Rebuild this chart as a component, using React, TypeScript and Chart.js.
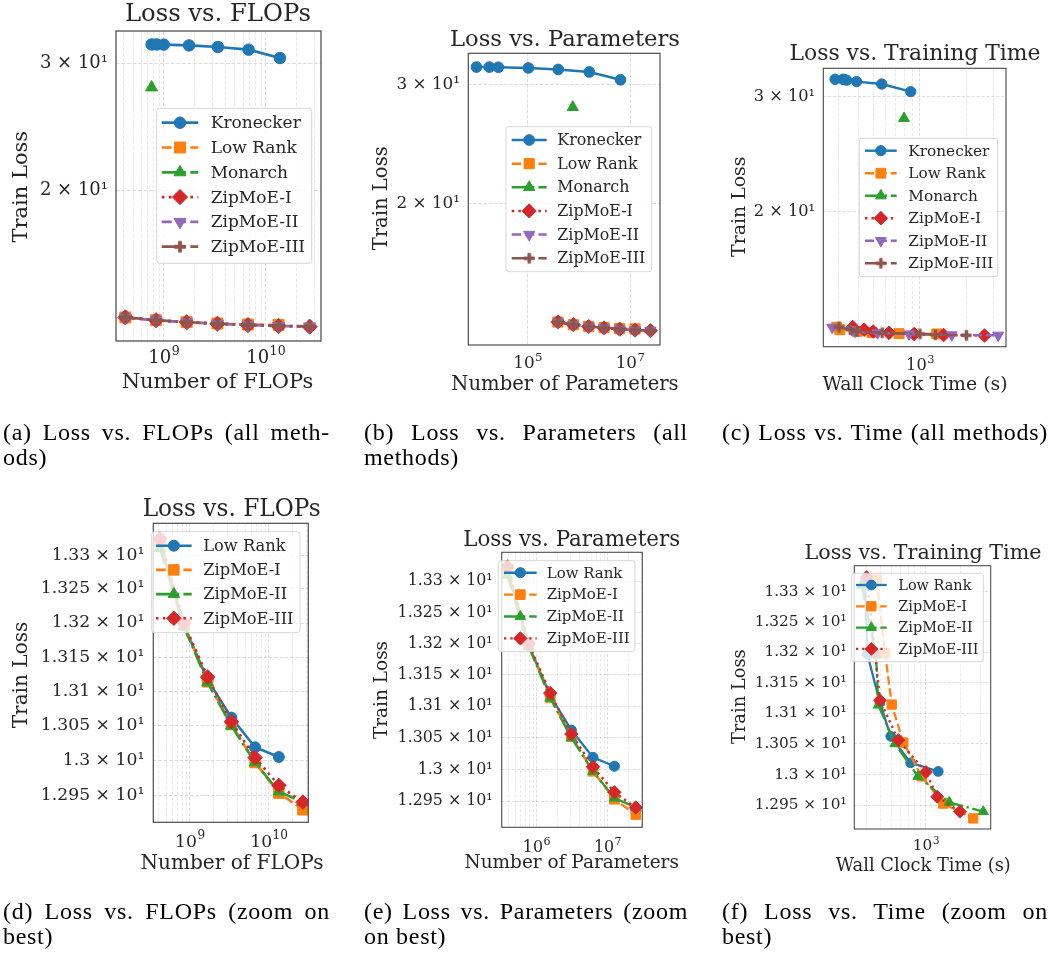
import React, { useEffect, useRef } from 'react';
import { Chart, registerables } from 'chart.js';

Chart.register(...registerables);

// ---------------- data ----------------
const lossKronecker = [31.9, 31.9, 31.88, 31.8, 31.64, 31.37, 30.54];
const flopsKronecker = [7.6e8, 8.5e8, 1.0e9, 1.77e9, 3.4e9, 6.8e9, 1.38e10];
const paramsKronecker = [1.0e4, 1.78e4, 2.67e4, 1.03e5, 3.96e5, 1.6e6, 6.5e6];
const timeKronecker = [283, 318, 325, 336, 390, 566, 871];

const lossMonarch = [27.8];
const flopsMonarch = [7.6e8];
const paramsMonarch = [7.6e5];
const timeMonarch = [789];

const flopsLowRank = [4.2e8, 8.4e8, 1.68e9, 3.36e9, 6.7e9, 1.34e10];
const paramsLowRank = [3.9e5, 7.8e5, 1.56e6, 3.1e6, 6.25e6, 1.25e7];
const timeLowRank = [290, 304, 393, 489, 733, 1283];
const lossLowRank = [13.318, 13.197, 13.117, 13.062, 13.019, 13.005];

const flopsZip = [4.2e8, 8.4e8, 1.68e9, 3.36e9, 6.7e9, 1.34e10, 2.7e10];
const paramsZip = [3.9e5, 7.8e5, 1.56e6, 3.1e6, 6.25e6, 1.25e7, 2.5e7];

const lossZipI = [13.32, 13.198, 13.114, 13.052, 12.997, 12.953, 12.929];
const lossZipII = [13.31, 13.195, 13.113, 13.05, 12.997, 12.955, 12.94];
const lossZipIII = [13.324, 13.2, 13.121, 13.056, 13.004, 12.964, 12.94];

const timeZipI = [368, 436, 499, 631, 917, 1420, 2610];
const timeZipII = [271, 363, 380, 533, 850, 1604, 3200];
const timeZipIII = [300, 355, 393, 570, 1000, 1257, 1994];

// tick labels
const yTicksAll = [20, 30];
const yLabelsAll = ['2 × 10¹', '3 × 10¹'];
const yTicksZoom = [12.95, 13.0, 13.05, 13.1, 13.15, 13.2, 13.25, 13.3];
const yLabelsZoom = ['1.295 × 10¹', '1.3 × 10¹', '1.305 × 10¹', '1.31 × 10¹', '1.315 × 10¹', '1.32 × 10¹', '1.325 × 10¹', '1.33 × 10¹'];
const xTicksFlops = [1e9, 1e10];
const xExpFlops = ['9', '10'];
const xTicksParamsAll = [1e5, 1e7];
const xExpParamsAll = ['5', '7'];
const xTicksParamsZoom = [1e6, 1e7];
const xExpParamsZoom = ['6', '7'];
const xTicksTime = [1e3];
const xExpTime = ['3'];

// ---------------- style ----------------
const FONT = '"DejaVu Serif", serif';
const TXT = '#262626';
const C = ['#1f77b4', '#ff7f0e', '#2ca02c', '#d62728', '#9467bd', '#8c564b'];
const PW = 1050;
const PH = 953;
const LW = 2.7;
const MS = 11.5;
const BASE = { title: 24.3, label: 21, tick: 18, legend: 17 };

type Marker = 'o' | 's' | '^' | 'D' | 'v' | 'P';
type Dash = '-' | '--' | '-.' | ':';
interface Series { label: string; xs: number[]; ys: number[]; color: string; marker: Marker; dash: Dash; }
interface Panel {
  s: number;
  area: [number, number, number, number];
  xMin: number; xMax: number; yMin: number; yMax: number;
  xMajor: number[]; xExp: string[]; xMinor: boolean;
  yTicks: number[]; yLabels: string[];
  xTickBase: number; yPad: number;
  title: string; titlePos: [number, number];
  xlabel: string; xlabelPos: [number, number];
  ylabel: string; ylabelPos: [number, number];
  legendBox: [number, number, number, number];
  legendRow0: number; legendStep: number;
  legendLine: [number, number]; legendTextX: number;
  series: Series[];
}

function dashArr(d: Dash, lw: number): number[] {
  switch (d) {
    case '--': return [3.7 * lw, 1.6 * lw];
    case '-.': return [6.4 * lw, 1.6 * lw, 1 * lw, 1.6 * lw];
    case ':': return [1 * lw, 1.65 * lw];
    default: return [];
  }
}

function markerRadius(m: Marker, ms: number): number {
  switch (m) {
    case 'o': return ms / 2;
    case 's': return ms / Math.SQRT2 * 0.95;
    case 'D': return ms * 0.66;
    case '^': case 'v': return ms / 1.65;
    default: return ms / 2;
  }
}

function plusCanvas(size: number, color: string): HTMLCanvasElement {
  const c = document.createElement('canvas');
  const d = Math.ceil(size) + 2;
  c.width = d; c.height = d;
  const g = c.getContext('2d')!;
  const cx = d / 2, cy = d / 2, h = size / 2, a = size / 6;
  g.fillStyle = color;
  g.beginPath();
  g.moveTo(cx - a, cy - h); g.lineTo(cx + a, cy - h); g.lineTo(cx + a, cy - a); g.lineTo(cx + h, cy - a);
  g.lineTo(cx + h, cy + a); g.lineTo(cx + a, cy + a); g.lineTo(cx + a, cy + h); g.lineTo(cx - a, cy + h);
  g.lineTo(cx - a, cy + a); g.lineTo(cx - h, cy + a); g.lineTo(cx - h, cy - a); g.lineTo(cx - a, cy - a);
  g.closePath();
  g.fill();
  return c;
}

function drawMarker(ctx: CanvasRenderingContext2D, m: Marker, x: number, y: number, ms: number, color: string, plus: HTMLCanvasElement | null) {
  ctx.save();
  ctx.setLineDash([]);
  ctx.fillStyle = color; ctx.strokeStyle = color; ctx.lineWidth = 1;
  if (m === 'P' && plus) {
    ctx.drawImage(plus, x - plus.width / 2, y - plus.height / 2);
    ctx.restore();
    return;
  }
  const r = markerRadius(m, ms);
  ctx.beginPath();
  if (m === 'o') ctx.arc(x, y, r, 0, Math.PI * 2);
  else if (m === 's') { const h = r * Math.SQRT1_2; ctx.rect(x - h, y - h, 2 * h, 2 * h); }
  else if (m === 'D') { ctx.moveTo(x - r, y); ctx.lineTo(x, y - r); ctx.lineTo(x + r, y); ctx.lineTo(x, y + r); ctx.closePath(); }
  else if (m === '^') { ctx.moveTo(x, y - r); ctx.lineTo(x + 0.866 * r, y + 0.5 * r); ctx.lineTo(x - 0.866 * r, y + 0.5 * r); ctx.closePath(); }
  else if (m === 'v') { ctx.moveTo(x, y + r); ctx.lineTo(x - 0.866 * r, y - 0.5 * r); ctx.lineTo(x + 0.866 * r, y - 0.5 * r); ctx.closePath(); }
  ctx.fill(); ctx.stroke();
  ctx.restore();
}

function minorTicks(min: number, max: number): number[] {
  const out: number[] = [];
  for (let e = Math.floor(Math.log10(min)); e <= Math.ceil(Math.log10(max)); e++) {
    for (let k = 2; k <= 9; k++) {
      const v = k * Math.pow(10, e);
      if (v > min && v < max) out.push(v);
    }
  }
  return out;
}

function near(a: number, b: number) { return Math.abs(a / b - 1) < 1e-6; }

function buildConfig(p: Panel): any {
  const [L, T, R, B] = p.area;
  const s = p.s;
  const lw = LW * s;
  const ms = MS * s;
  const yAxisW = Math.min(L - 2, 150);
  const xAxisH = 40;
  const plusImgs: Record<string, HTMLCanvasElement> = {};
  p.series.forEach((se) => { if (se.marker === 'P') plusImgs[se.label] = plusCanvas(ms, se.color); });

  const datasets = p.series.map((se, i) => ({
    label: se.label,
    data: se.xs.map((x, j) => ({ x, y: se.ys[j] })),
    showLine: true,
    borderColor: se.color,
    backgroundColor: se.color,
    borderWidth: lw,
    borderDash: dashArr(se.dash, lw),
    pointStyle: se.marker === 'P' ? plusImgs[se.label] : ({ o: 'circle', s: 'rect', '^': 'triangle', v: 'triangle', D: 'rectRot' } as any)[se.marker],
    pointRotation: se.marker === 'v' ? 180 : 0,
    pointRadius: markerRadius(se.marker, ms),
    pointHoverRadius: markerRadius(se.marker, ms),
    pointBorderWidth: 1,
    pointBackgroundColor: se.color,
    pointBorderColor: se.color,
    order: p.series.length - i,
    tension: 0,
  }));

  const xTickVals = p.xMinor ? [...p.xMajor, ...minorTicks(p.xMin, p.xMax)].sort((a, b) => a - b) : [...p.xMajor];
  const tickSize = BASE.tick * s;

  const decor = {
    id: 'decor_' + p.title.replace(/\W/g, ''),
    afterDraw(chart: any) {
      const ctx: CanvasRenderingContext2D = chart.ctx;
      const a = chart.chartArea;
      ctx.save();
      // spines
      ctx.setLineDash([]);
      ctx.strokeStyle = '#4a4a4a';
      ctx.lineWidth = 1.25 * s;
      ctx.strokeRect(a.left, a.top, a.right - a.left, a.bottom - a.top);
      // x tick labels: 10 with superscript exponent
      const xs = chart.scales.x;
      p.xMajor.forEach((v, k) => {
        const px = xs.getPixelForValue(v);
        ctx.font = `${tickSize}px ${FONT}`;
        const wb = ctx.measureText('10').width;
        ctx.font = `${tickSize * 0.7}px ${FONT}`;
        const we = ctx.measureText(p.xExp[k]).width;
        const x0 = px - (wb + we) / 2;
        ctx.fillStyle = TXT;
        ctx.textAlign = 'left';
        ctx.textBaseline = 'alphabetic';
        ctx.font = `${tickSize}px ${FONT}`;
        ctx.fillText('10', x0, p.xTickBase);
        ctx.font = `${tickSize * 0.7}px ${FONT}`;
        ctx.fillText(p.xExp[k], x0 + wb + 0.5, p.xTickBase - tickSize * 0.42);
      });
      // legend
      const [bx, by, bw, bh] = p.legendBox;
      ctx.beginPath();
      (ctx as any).roundRect(bx, by, bw, bh, 3 * s);
      ctx.fillStyle = 'rgba(255,255,255,0.8)';
      ctx.fill();
      ctx.strokeStyle = 'rgba(204,204,204,0.8)';
      ctx.lineWidth = 1;
      ctx.stroke();
      p.series.forEach((se, i) => {
        const y = p.legendRow0 + i * p.legendStep;
        const [x1, x2] = p.legendLine;
        ctx.save();
        ctx.strokeStyle = se.color;
        ctx.lineWidth = lw;
        ctx.lineCap = 'butt';
        ctx.setLineDash(dashArr(se.dash, lw));
        ctx.beginPath(); ctx.moveTo(x1, y); ctx.lineTo(x2, y); ctx.stroke();
        ctx.restore();
        drawMarker(ctx, se.marker, (x1 + x2) / 2, y, ms, se.color, plusImgs[se.label] || null);
        ctx.fillStyle = TXT;
        ctx.font = `${BASE.legend * s}px ${FONT}`;
        ctx.textAlign = 'left';
        ctx.textBaseline = 'middle';
        ctx.fillText(se.label, p.legendTextX, y + 1);
      });
      // title and labels
      ctx.fillStyle = TXT;
      ctx.textAlign = 'center';
      ctx.textBaseline = 'middle';
      ctx.font = `${BASE.title * s}px ${FONT}`;
      ctx.fillText(p.title, p.titlePos[0], p.titlePos[1]);
      ctx.font = `${BASE.label * s}px ${FONT}`;
      ctx.fillText(p.xlabel, p.xlabelPos[0], p.xlabelPos[1]);
      ctx.save();
      ctx.translate(p.ylabelPos[0], p.ylabelPos[1]);
      ctx.rotate(-Math.PI / 2);
      ctx.fillText(p.ylabel, 0, 0);
      ctx.restore();
      ctx.restore();
    },
  };

  return {
    type: 'scatter',
    data: { datasets },
    options: {
      animation: false,
      responsive: false,
      devicePixelRatio: 1,
      events: [],
      layout: { padding: { left: L - yAxisW, top: T, right: PW - R, bottom: PH - B - xAxisH } },
      plugins: { legend: { display: false }, tooltip: { enabled: false }, title: { display: false } },
      scales: {
        x: {
          type: 'logarithmic',
          min: p.xMin, max: p.xMax, bounds: 'data',
          afterBuildTicks: (sc: any) => { sc.ticks = xTickVals.map((v) => ({ value: v })); },
          afterFit: (sc: any) => { sc.height = xAxisH; },
          ticks: {
            autoSkip: false, maxRotation: 0, minRotation: 0,
            font: { family: FONT, size: tickSize }, color: 'rgba(0,0,0,0)',
            callback: () => '',
          },
          grid: {
            drawTicks: false,
            color: (c: any) => (c.tick && p.xMajor.some((m) => near(c.tick.value, m)) ? 'rgba(0,0,0,0.16)' : 'rgba(0,0,0,0.1)'),
            lineWidth: 0.9 * s,
          },
          border: { display: false, dash: [3.7 * s, 1.8 * s] },
        },
        y: {
          type: 'logarithmic',
          min: p.yMin, max: p.yMax, bounds: 'data',
          afterBuildTicks: (sc: any) => { sc.ticks = p.yTicks.map((v) => ({ value: v })); },
          afterFit: (sc: any) => { sc.width = yAxisW; },
          ticks: {
            autoSkip: false,
            padding: p.yPad,
            font: { family: FONT, size: tickSize }, color: TXT,
            callback: (v: number) => { const k = p.yTicks.findIndex((m) => near(v, m)); return k >= 0 ? p.yLabels[k] : ''; },
          },
          grid: { drawTicks: false, color: 'rgba(0,0,0,0.16)', lineWidth: 0.9 * s },
          border: { display: false, dash: [3.7 * s, 1.8 * s] },
        },
      },
    },
    plugins: [decor],
  };
}

const topSeries = (xsK: number[], xsLR: number[], xsM: number[], xsZ1: number[], xsZ2: number[], xsZ3: number[]): Series[] => [
  { label: 'Kronecker', xs: xsK, ys: lossKronecker, color: C[0], marker: 'o', dash: '-' },
  { label: 'Low Rank', xs: xsLR, ys: lossLowRank, color: C[1], marker: 's', dash: '--' },
  { label: 'Monarch', xs: xsM, ys: lossMonarch, color: C[2], marker: '^', dash: '-.' },
  { label: 'ZipMoE-I', xs: xsZ1, ys: lossZipI, color: C[3], marker: 'D', dash: ':' },
  { label: 'ZipMoE-II', xs: xsZ2, ys: lossZipII, color: C[4], marker: 'v', dash: '--' },
  { label: 'ZipMoE-III', xs: xsZ3, ys: lossZipIII, color: C[5], marker: 'P', dash: '-.' },
];
const bottomSeries = (xsLR: number[], xsZ1: number[], xsZ2: number[], xsZ3: number[]): Series[] => [
  { label: 'Low Rank', xs: xsLR, ys: lossLowRank, color: C[0], marker: 'o', dash: '-' },
  { label: 'ZipMoE-I', xs: xsZ1, ys: lossZipI, color: C[1], marker: 's', dash: '--' },
  { label: 'ZipMoE-II', xs: xsZ2, ys: lossZipII, color: C[2], marker: '^', dash: '-.' },
  { label: 'ZipMoE-III', xs: xsZ3, ys: lossZipIII, color: C[3], marker: 'D', dash: ':' },
];

const panels: Panel[] = [
  {
    s: 1, area: [116, 31, 321, 341], xMin: 3.4e8, xMax: 3.49e10, yMin: 12.35, yMax: 33.3,
    xMajor: xTicksFlops, xExp: xExpFlops, xMinor: true, yTicks: yTicksAll, yLabels: yLabelsAll,
    xTickBase: 363, yPad: 8,
    title: 'Loss vs. FLOPs', titlePos: [218, 15], xlabel: 'Number of FLOPs', xlabelPos: [217.5, 383], ylabel: 'Train Loss', ylabelPos: [21.7, 186.7],
    legendBox: [156.7, 108.3, 155, 155], legendRow0: 122.7, legendStep: 24.8, legendLine: [161.7, 198.3], legendTextX: 210.7,
    series: topSeries(flopsKronecker, flopsLowRank, flopsMonarch, flopsZip, flopsZip, flopsZip),
  },
  {
    s: 0.933, area: [468.3, 53.3, 660, 345], xMin: 6.92e3, xMax: 3.84e7, yMin: 12.31, yMax: 33.44,
    xMajor: xTicksParamsAll, xExp: xExpParamsAll, xMinor: false, yTicks: yTicksAll, yLabels: yLabelsAll,
    xTickBase: 368.3, yPad: 8.3,
    title: 'Loss vs. Parameters', titlePos: [565, 40], xlabel: 'Number of Parameters', xlabelPos: [565, 385], ylabel: 'Train Loss', ylabelPos: [381.7, 198.3],
    legendBox: [506, 126.7, 145.7, 145], legendRow0: 140, legendStep: 23.65, legendLine: [511.7, 546.7], legendTextX: 557.3,
    series: topSeries(paramsKronecker, paramsLowRank, paramsMonarch, paramsZip, paramsZip, paramsZip),
  },
  {
    s: 0.9, area: [823.3, 68.3, 1006, 346.7], xMin: 237.7, xMax: 3590, yMin: 12.43, yMax: 33.16,
    xMajor: xTicksTime, xExp: xExpTime, xMinor: true, yTicks: yTicksAll, yLabels: yLabelsAll,
    xTickBase: 370, yPad: 8.3,
    title: 'Loss vs. Training Time', titlePos: [915, 54], xlabel: 'Wall Clock Time (s)', xlabelPos: [915, 385], ylabel: 'Train Loss', ylabelPos: [740, 206.7],
    legendBox: [859.3, 138.3, 138.4, 138.4], legendRow0: 150.7, legendStep: 22.5, legendLine: [865, 896.7], legendTextX: 908.3,
    series: topSeries(timeKronecker, timeLowRank, timeMonarch, timeZipI, timeZipII, timeZipIII),
  },
  {
    s: 0.957, area: [153.3, 523.3, 308.3, 822.3], xMin: 3.45e8, xMax: 3.16e10, yMin: 12.911, yMax: 13.347,
    xMajor: xTicksFlops, xExp: xExpFlops, xMinor: true, yTicks: yTicksZoom, yLabels: yLabelsZoom,
    xTickBase: 846.7, yPad: 9,
    title: 'Loss vs. FLOPs', titlePos: [231.7, 510], xlabel: 'Number of FLOPs', xlabelPos: [232, 863.3], ylabel: 'Train Loss', ylabelPos: [21.7, 675],
    legendBox: [151.7, 531.7, 148.3, 101], legendRow0: 545.7, legendStep: 24.2, legendLine: [156, 191.7], legendTextX: 203.3,
    series: bottomSeries(flopsLowRank, flopsZip, flopsZip, flopsZip),
  },
  {
    s: 0.88, area: [501.7, 552.3, 642.3, 827.3], xMin: 3.24e5, xMax: 3.09e7, yMin: 12.909, yMax: 13.347,
    xMajor: xTicksParamsZoom, xExp: xExpParamsZoom, xMinor: true, yTicks: yTicksZoom, yLabels: yLabelsZoom,
    xTickBase: 851.7, yPad: 9,
    title: 'Loss vs. Parameters', titlePos: [571.7, 540], xlabel: 'Number of Parameters', xlabelPos: [571.7, 863.3], ylabel: 'Train Loss', ylabelPos: [381.7, 690],
    legendBox: [498.3, 560.7, 136.7, 91], legendRow0: 572.7, legendStep: 21.9, legendLine: [504, 536.7], legendTextX: 546.7,
    series: bottomSeries(paramsLowRank, paramsZip, paramsZip, paramsZip),
  },
  {
    s: 0.85, area: [854.3, 565.7, 990.7, 829], xMin: 233.5, xMax: 3720, yMin: 12.912, yMax: 13.343,
    xMajor: xTicksTime, xExp: xExpTime, xMinor: true, yTicks: yTicksZoom, yLabels: yLabelsZoom,
    xTickBase: 850, yPad: 7.7,
    title: 'Loss vs. Training Time', titlePos: [923, 554], xlabel: 'Wall Clock Time (s)', xlabelPos: [923.3, 866.7], ylabel: 'Train Loss', ylabelPos: [740, 696.7],
    legendBox: [851.7, 573.3, 131.6, 88.4], legendRow0: 585, legendStep: 21.3, legendLine: [856, 886.7], legendTextX: 898.3,
    series: bottomSeries(timeLowRank, timeZipI, timeZipII, timeZipIII),
  },
];

const captions: { left: number; top: number; width: number; lines: string[] }[] = [
  { left: 3, top: 419.5, width: 327, lines: ['(a) Loss vs. FLOPs (all meth-', 'ods)'] },
  { left: 364, top: 419.5, width: 324, lines: ['(b) Loss vs. Parameters (all', 'methods)'] },
  { left: 722, top: 419.5, width: 326, lines: ['(c) Loss vs. Time (all methods)'] },
  { left: 3, top: 898.5, width: 327, lines: ['(d) Loss vs. FLOPs (zoom on', 'best)'] },
  { left: 364, top: 898.5, width: 324, lines: ['(e) Loss vs. Parameters (zoom', 'on best)'] },
  { left: 722, top: 898.5, width: 326, lines: ['(f) Loss vs. Time (zoom on', 'best)'] },
];

function ChartPanel({ panel }: { panel: Panel }) {
  const ref = useRef<HTMLCanvasElement>(null);
  useEffect(() => {
    const chart = new Chart(ref.current as HTMLCanvasElement, buildConfig(panel));
    return () => chart.destroy();
  }, [panel]);
  return <canvas ref={ref} width={PW} height={PH} style={{ position: 'absolute', left: 0, top: 0, width: PW, height: PH }} />;
}

export default function App() {
  return (
    <div style={{ position: 'absolute', left: 0, top: 0, width: PW, height: PH, background: '#fff', overflow: 'hidden' }}>
      {panels.map((p, i) => <ChartPanel key={i} panel={p} />)}
      {captions.map((c, i) => (
        <div key={'c' + i} style={{ position: 'absolute', left: c.left, top: c.top, width: c.width, fontFamily: '"Liberation Serif", serif', fontSize: 24, lineHeight: '25px', color: '#000', letterSpacing: 0.7 }}>
          {c.lines.map((ln, j) => {
            const last = j === c.lines.length - 1 && c.lines.length > 1;
            return (
              <div key={j} style={{ textAlign: last ? 'left' : 'justify', textAlignLast: last ? 'left' : 'justify', whiteSpace: 'nowrap' }}>{ln}</div>
            );
          })}
        </div>
      ))}
    </div>
  );
}
